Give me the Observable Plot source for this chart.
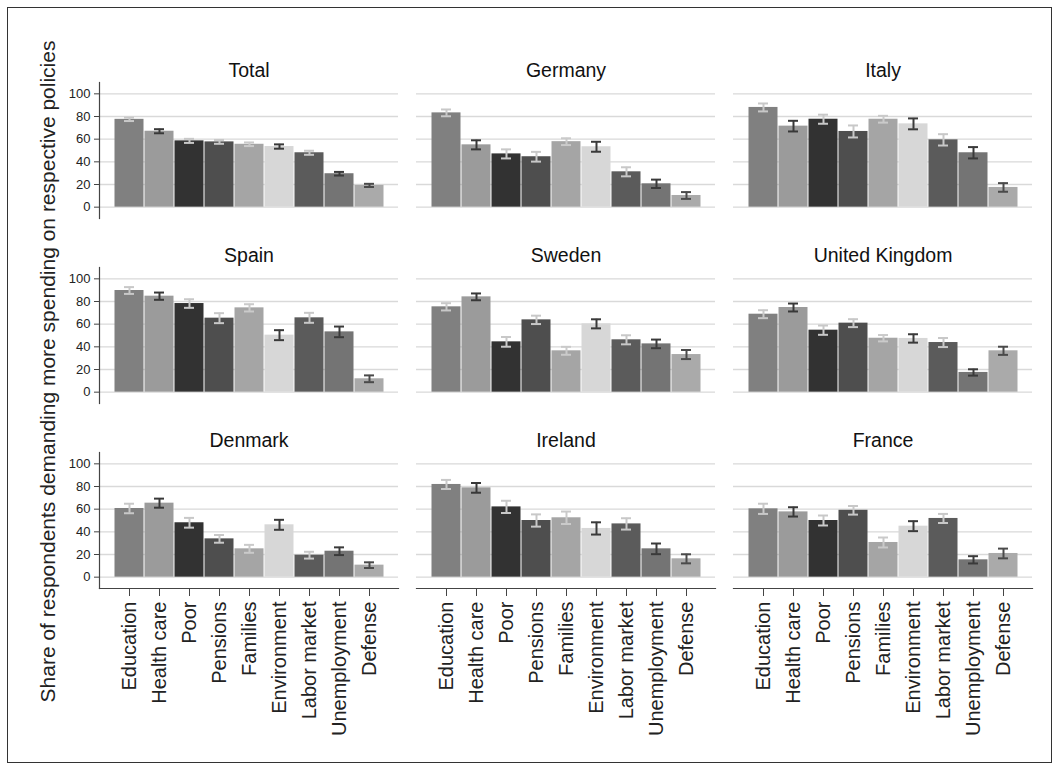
<!DOCTYPE html>
<html>
<head>
<meta charset="utf-8">
<script src="https://cdn.jsdelivr.net/npm/d3@7"></script>
<script src="https://cdn.jsdelivr.net/npm/@observablehq/plot@0.6"></script>
<style>
  html, body { margin: 0; padding: 0; background: #fff; }
  #wrap { position: relative; width: 1061px; height: 771px; overflow: hidden; }
  #border { position: absolute; left: 7px; top: 7px; width: 1045px; height: 756px; border: 1px solid #333; box-sizing: border-box; }
  #chart { position: absolute; left: 0; top: 0; }
</style>
</head>
<body>
<div id="wrap">
  <div id="border"></div>
  <div id="chart"></div>
</div>
<script>
// Spending areas, in the order the bars are drawn
const categories = ["Education", "Health care", "Poor", "Pensions", "Families",
  "Environment", "Labor market", "Unemployment", "Defense"];

// Panels, read row by row
const countries = ["Total", "Germany", "Italy", "Spain", "Sweden",
  "United Kingdom", "Denmark", "Ireland", "France"];

// Share (%) demanding more spending, one value per category
const total   = [77.5, 67.0, 58.5, 57.6, 55.5, 53.5, 48.0, 29.5, 19.2];
const germany = [83.2, 55.0, 47.0, 44.5, 57.8, 53.3, 31.2, 20.6, 10.3];
const italy   = [88.0, 71.5, 77.6, 66.8, 77.6, 73.5, 59.4, 48.0, 17.4];
const spain   = [89.7, 84.7, 78.2, 65.3, 74.4, 50.3, 65.6, 53.2, 11.8];
const sweden  = [75.3, 84.1, 44.4, 63.8, 36.5, 60.3, 46.2, 42.6, 33.2];
const uk      = [68.8, 74.7, 54.7, 60.9, 47.6, 47.4, 43.8, 17.4, 36.5];
const denmark = [60.6, 65.3, 48.0, 33.8, 25.0, 46.2, 19.4, 22.9, 10.6];
const ireland = [81.8, 78.8, 62.0, 50.0, 52.4, 43.0, 47.0, 25.0, 16.2];
const france  = [60.3, 57.6, 50.0, 59.0, 30.6, 45.0, 51.8, 15.3, 20.9];

// Half-widths of the 95% confidence intervals
const ciTotal   = [1.5, 1.8, 1.8, 1.7, 1.6, 1.9, 1.8, 1.6, 1.4];
const ciGermany = [3.0, 4.0, 4.0, 4.3, 3.0, 4.4, 4.0, 3.7, 3.0];
const ciItaly   = [3.5, 4.7, 4.0, 5.3, 3.0, 4.8, 5.0, 5.0, 3.8];
const ciSpain   = [3.0, 3.2, 3.8, 4.4, 3.2, 4.4, 4.4, 4.7, 3.0];
const ciSweden  = [3.2, 3.0, 4.3, 3.7, 3.5, 4.0, 4.0, 3.8, 4.0];
const ciUk      = [3.5, 3.5, 4.1, 3.5, 2.8, 3.7, 4.0, 2.8, 3.6];
const ciDenmark = [4.2, 4.0, 4.3, 3.4, 3.5, 4.4, 3.0, 3.4, 2.5];
const ciIreland = [4.0, 4.3, 5.4, 5.4, 5.5, 5.4, 5.0, 4.7, 4.0];
const ciFrance  = [4.5, 4.1, 4.4, 3.8, 4.4, 4.4, 4.0, 3.2, 4.3];

const yTicks = [0, 20, 40, 60, 80, 100];

// Grey shades for bars and their interval whiskers
const barColors = ["#808080", "#9b9b9b", "#323232", "#4e4e4e", "#a5a5a5",
  "#d7d7d7", "#5b5b5b", "#747474", "#aaaaaa"];
const ciColors = ["#c8c8c8", "#383838", "#c8c8c8", "#c8c8c8", "#cacaca",
  "#3a3a3a", "#c8c8c8", "#3a3a3a", "#4a4a4a"];

const series = [total, germany, italy, spain, sweden, uk, denmark, ireland, france];
const cis = [ciTotal, ciGermany, ciItaly, ciSpain, ciSweden, ciUk, ciDenmark, ciIreland, ciFrance];

const panels = countries.map((name, i) => ({name, col: i % 3, row: Math.floor(i / 3)}));
const rows = [];
panels.forEach((p, i) => {
  categories.forEach((c, j) => {
    rows.push({
      ...p, category: c, value: series[i][j], ci: cis[i][j],
      fillColor: barColors[j], ciColor: ciColors[j]
    });
  });
});

const font = "'Liberation Sans', Arial, Helvetica, sans-serif";

const chart = Plot.plot({
  width: 1061,
  height: 771,
  marginTop: 81,
  marginBottom: 183,
  marginLeft: 98,
  marginRight: 29,
  style: {fontFamily: font, fontSize: "12px", color: "#222", background: "transparent"},
  fx: {axis: null, paddingInner: 0.057, paddingOuter: 0},
  fy: {axis: null, paddingInner: 0.265, paddingOuter: 0},
  x: {domain: categories, paddingInner: 0, paddingOuter: 0.42, label: null},
  y: {domain: [-10, 110], label: null},
  marks: [
    Plot.gridY(yTicks, {stroke: "#d9d9d9", strokeOpacity: 1, strokeWidth: 1.3}),
    Plot.barY(rows, {
      fx: "col", fy: "row", x: "category", y: "value",
      fill: "fillColor", insetLeft: 0.5, insetRight: 0.5
    }),
    Plot.ruleX(rows, {
      fx: "col", fy: "row", x: "category",
      y1: d => d.value - d.ci, y2: d => d.value + d.ci,
      stroke: "ciColor", strokeWidth: 2
    }),
    Plot.tickY(rows, {
      fx: "col", fy: "row", x: "category", y: d => d.value + d.ci,
      stroke: "ciColor", strokeWidth: 2, insetLeft: 10, insetRight: 10
    }),
    Plot.tickY(rows, {
      fx: "col", fy: "row", x: "category", y: d => d.value - d.ci,
      stroke: "ciColor", strokeWidth: 2, insetLeft: 10, insetRight: 10
    }),
    Plot.frame({anchor: "left", facetAnchor: "left", stroke: "#444", strokeWidth: 1.2}),
    Plot.frame({anchor: "bottom", facetAnchor: "bottom", stroke: "#444", strokeWidth: 1.2}),
    Plot.axisY({
      anchor: "left", ticks: yTicks, tickSize: 5, tickPadding: 4,
      fontSize: 13, stroke: "#444", label: null
    }),
    Plot.axisX({
      anchor: "bottom", tickRotate: -90, tickSize: 8, tickPadding: 5,
      fontSize: 20, stroke: "#444", label: null
    }),
    Plot.text(panels, {
      fx: "col", fy: "row", text: "name", frameAnchor: "top",
      lineAnchor: "bottom", dy: -6, fontSize: 19.5, fill: "#111"
    }),
    Plot.text(["Share of respondents demanding more spending on respective policies"], {
      facet: "super", frameAnchor: "left", textAnchor: "middle", rotate: -90,
      dx: -51, dy: 36, fontSize: 21, fill: "#222"
    })
  ]
});

document.getElementById("chart").appendChild(chart);
</script>
</body>
</html>
